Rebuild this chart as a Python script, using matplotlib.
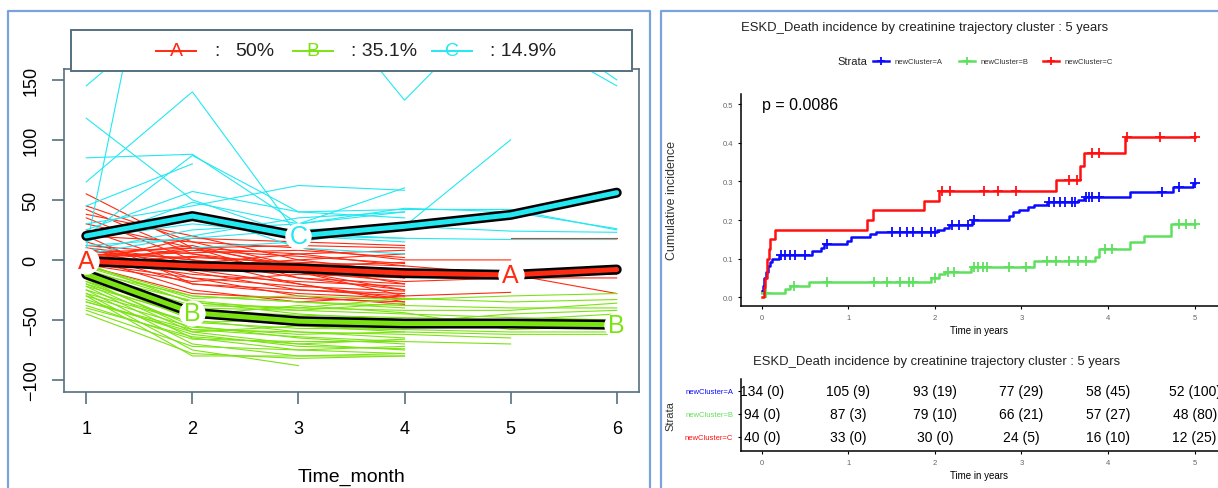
import numpy as np
import matplotlib
import matplotlib.pyplot as plt
from matplotlib.patches import Rectangle

plt.rcParams['font.family'] = ['Liberation Sans', 'DejaVu Sans']

nan = np.nan
W, H = 1218, 489

RED = '#ff2a12'
GREEN = '#7ce312'
CYAN = '#22e8f2'
SLATE = '#56707f'
FRAME = '#7aa2dc'

# ---- creatinine trajectories (months 1..6) ----
months = [1, 2, 3, 4, 5, 6]
cluster_names = ['A', 'B', 'C']
cluster_share = ['50%', '35.1%', '14.9%']

traj_A = [
    [55, 10, -15, -25, nan, nan],
    [45, 15, -5, -20, nan, nan],
    [42, 5, -10, -30, nan, nan],
    [38, 20, 0, -10, nan, nan],
    [35, 0, -20, -35, nan, nan],
    [30, 10, 5, -5, nan, nan],
    [25, -5, -10, -25, nan, nan],
    [20, 15, 10, 0, 0, nan],
    [15, -10, -25, -30, -27, nan],
    [12, 5, -5, -15, nan, nan],
    [10, -15, -30, -37, nan, nan],
    [8, 0, -15, -20, nan, nan],
    [6, 10, 12, 10, nan, nan],
    [5, -20, -25, -28, nan, nan],
    [4, -5, 0, 5, nan, nan],
    [3, 12, -8, -12, nan, nan],
    [2, -25, -35, -30, nan, nan],
    [1, 8, 3, -3, nan, nan],
    [0, -12, -18, -22, nan, nan],
    [-1, 18, 15, 12, nan, nan],
    [-2, -8, -20, -33, nan, nan],
    [-3, 3, -3, -8, nan, nan],
    [-4, -18, -12, -15, nan, nan],
    [-5, -28, -32, -35, nan, nan],
    [0, -2, -6, -10, nan, nan],
    [5, 2, -2, -5, -12, -28],
    [2, -6, -10, -18, -15, -15],
    [8, -3, 5, 8, nan, nan],
    [-3, -15, -22, -26, nan, nan],
    [3, 6, 8, 2, nan, nan],
    [nan, nan, nan, nan, 18, 18],
    [10, 0, -8, -10, -10, -12],
    [20, -20, -28, -32, nan, nan],
    [-2, 10, -5, -2, nan, nan],
]

traj_B = [
    [-5, -30, -35, -40, nan, nan],
    [-8, -35, -45, -50, nan, nan],
    [-10, -40, -50, -55, nan, nan],
    [-12, -45, -55, -60, nan, nan],
    [-15, -50, -60, -65, nan, nan],
    [-18, -55, -65, -70, nan, nan],
    [-20, -60, -70, -75, nan, nan],
    [-22, -65, -75, -78, nan, nan],
    [-25, -70, -80, -80, nan, nan],
    [-28, -75, -88, nan, nan, nan],
    [-30, -80, -80, -78, nan, nan],
    [-33, -62, -72, -74, nan, nan],
    [-35, -58, -60, -62, -65, nan],
    [-38, -66, -68, -68, -70, nan],
    [-42, -72, -75, -72, nan, nan],
    [-45, -78, -82, -80, nan, nan],
    [-10, -30, -35, -38, -40, -40],
    [-6, -32, -30, -33, -30, -28],
    [-15, -40, -42, -45, -48, -50],
    [-20, -48, -52, -55, -55, -57],
    [-25, -52, -57, -58, -60, -60],
    [-12, -38, -40, -42, -42, -36],
    [-8, -42, -46, -48, -50, -45],
    [-30, -56, -62, -60, -62, -62],
    [-18, -44, -48, -52, -45, -42],
    [-3, -36, -40, -32, -35, -33],
    [-22, -46, -38, -44, -58, -55],
    [-28, -52, -50, -48, nan, nan],
    [-35, -60, -55, -58, nan, nan],
    [-16, -58, -64, -68, nan, nan],
    [-40, -64, -70, -66, nan, nan],
    [-13, -34, -42, -36, nan, nan],
]

traj_C = [
    [145, 220, nan, nan, nan, nan],
    [10, 440, nan, nan, nan, nan],
    [118, 50, 20, 18, nan, nan],
    [65, 140, 20, 15, nan, nan],
    [85, 88, 30, 40, nan, nan],
    [20, 87, 40, 42, 42, 25],
    [45, 80, nan, nan, nan, nan],
    [25, 57, 40, 35, nan, nan],
    [15, 48, 30, 60, nan, nan],
    [30, 45, 62, 58, nan, nan],
    [8, 25, 30, 43, 40, 26],
    [5, 20, 35, 40, nan, nan],
    [12, 18, 25, 28, 24, 23],
    [18, 30, 22, 18, 17, 17],
    [22, 40, 10, 5, nan, nan],
    [nan, 10, 15, 28, 100, nan],
    [nan, nan, 241, 133, 223, nan],
    [nan, nan, nan, nan, 195, 145],
    [nan, nan, nan, nan, 210, 150],
]

mean_A = [-1, -5, -7, -11, -12.5, -8]
mean_B = [-12, -44, -51, -53, -53, -54]
mean_C = [20, 36.5, 20, 28, 37.5, 56]
label_months = {'A': [1, 5], 'B': [2, 6], 'C': [3]}

# ---- cumulative incidence (step curves) ----
times_A = [0, 0.01, 0.03, 0.05, 0.07, 0.09, 0.12, 0.2, 0.58, 0.68, 0.72, 0.98, 1.03,
           1.25, 1.32, 2.02, 2.1, 2.16, 2.43, 2.85, 2.9, 2.97, 3.08, 3.15, 3.3, 3.65,
           3.72, 4.25, 4.75, 4.98, 5.0]
cum_A = [0.015, 0.03, 0.05, 0.065, 0.08, 0.09, 0.10, 0.11, 0.12, 0.127, 0.137, 0.145, 0.157,
         0.163, 0.17, 0.175, 0.18, 0.187, 0.2, 0.21, 0.22, 0.227, 0.235, 0.24, 0.247, 0.253,
         0.26, 0.272, 0.285, 0.295, 0.295]
cens_A = [0.22, 0.27, 0.33, 0.38, 0.5, 0.75, 1.5, 1.6, 1.68, 1.75, 1.85, 1.95, 2.0, 2.2,
          2.28, 2.38, 2.45, 3.32, 3.38, 3.45, 3.5, 3.58, 3.62, 3.74, 3.78, 3.82, 3.9, 4.62,
          4.82, 5.0]

times_B = [0, 0.27, 0.33, 0.55, 1.95, 2.05, 2.12, 2.42, 3.15, 3.85, 3.9, 4.25, 4.42, 4.73, 5.0]
cum_B = [0.01, 0.02, 0.03, 0.04, 0.05, 0.06, 0.066, 0.078, 0.094, 0.105, 0.125, 0.143,
         0.158, 0.19, 0.19]
cens_B = [0.05, 0.37, 0.75, 1.3, 1.45, 1.6, 1.7, 1.75, 2.0, 2.15, 2.22, 2.45, 2.5, 2.55,
          2.6, 2.85, 3.05, 3.3, 3.4, 3.55, 3.65, 3.75, 3.97, 4.05, 4.82, 4.9, 5.0]

times_C = [0, 0.02, 0.04, 0.06, 0.08, 0.1, 0.15, 1.22, 1.28, 1.87, 2.05, 3.4, 3.68, 3.72,
           4.2, 5.0]
cum_C = [0, 0.025, 0.05, 0.10, 0.125, 0.15, 0.175, 0.20, 0.225, 0.25, 0.275, 0.305, 0.34,
         0.375, 0.415, 0.415]
cens_C = [2.08, 2.17, 2.57, 2.73, 2.94, 3.55, 3.64, 3.82, 3.9, 4.22, 4.6, 5.0]

p_value = 'p = 0.0086'
strata = ['newCluster=A', 'newCluster=B', 'newCluster=C']
risk_times = [0, 1, 2, 3, 4, 5]
at_risk = [[134, 105, 93, 77, 58, 52],
           [94, 87, 79, 66, 57, 48],
           [40, 33, 30, 24, 16, 12]]
events = [[0, 9, 19, 29, 45, 100],
          [0, 3, 10, 21, 27, 80],
          [0, 0, 0, 5, 10, 25]]
title = 'ESKD_Death incidence by creatinine trajectory cluster : 5 years'

KM_COLORS = ['#0a0aff', '#5ee05e', '#ff1010']


def box(l, t, r, b):
    return [l / W, 1 - b / H, (r - l) / W, (b - t) / H]


fig = plt.figure(figsize=(W / 100, H / 100), dpi=100)

##### Left: trajectories #####
ax = fig.add_axes(box(64, 70, 639, 393))
for trajs, col in [(traj_A, RED), (traj_B, GREEN), (traj_C, CYAN)]:
    for tr in trajs:
        ax.plot(months, tr, color=col, lw=0.8, zorder=2)

for name, mean, col in zip(cluster_names, [mean_A, mean_B, mean_C], [RED, GREEN, CYAN]):
    ax.plot(months, mean, color='black', lw=7.2, solid_capstyle='round',
            solid_joinstyle='round', zorder=5)
    ax.plot(months, mean, color=col, lw=3.6, solid_capstyle='round',
            solid_joinstyle='round', zorder=6)
    for m in label_months[name]:
        ax.plot(m, mean[m - 1], 'o', ms=18, mfc='white', mec='white', zorder=7)
        ax.text(m, mean[m - 1], name, color=col, fontsize=18, ha='center',
                va='center', zorder=8)

ax.set_xlim(0.79, 6.21)
ax.set_ylim(-110, 159)
ax.set_xticks(months)
ax.set_yticks([-100, -50, 0, 50, 100, 150])
ax.tick_params(axis='both', direction='out', length=8.5, width=1.2, color=SLATE,
               labelsize=13)
ax.tick_params(axis='x', pad=12)
ax.tick_params(axis='y', pad=9, labelrotation=90)
for lab in ax.get_yticklabels():
    lab.set_va('center')
for sp in ax.spines.values():
    sp.set_color(SLATE)
    sp.set_linewidth(1.2)
ax.set_xlabel('Time_month', fontsize=14, labelpad=22)

##### Right: cumulative incidence #####
axk = fig.add_axes(box(741, 95, 1218, 307))
for times, cum, cens, col in zip([times_A, times_B, times_C], [cum_A, cum_B, cum_C],
                                 [cens_A, cens_B, cens_C], KM_COLORS):
    axk.step(times, cum, where='post', color=col, lw=1.8)
    idx = np.searchsorted(times, cens, side='right') - 1
    axk.plot(cens, np.array(cum)[idx], '+', color=col, ms=7, mew=1.3, ls='none')

axk.set_xlim(-0.24, 5.27)
axk.set_ylim(-0.023, 0.527)
axk.set_xticks(risk_times)
axk.set_yticks([0, 0.1, 0.2, 0.3, 0.4, 0.5])
axk.set_yticklabels(['%.1f' % v for v in [0, 0.1, 0.2, 0.3, 0.4, 0.5]])
axk.spines[['top', 'right']].set_visible(False)
axk.spines[['left', 'bottom']].set_linewidth(1.1)
axk.tick_params(length=2.5, width=0.8, labelsize=5.5, labelcolor='#666666', pad=3)
axk.set_xlabel('Time in years', fontsize=7, labelpad=3)
axk.set_ylabel('Cumulative incidence', fontsize=9, color='#333333')
axk.yaxis.set_label_coords(-0.132, 0.5)
axk.text(0.0, 0.50, p_value, fontsize=11.5, ha='left', va='center')

##### Right: risk table #####
axt = fig.add_axes(box(741, 380, 1218, 452))
axt.set_xlim(-0.24, 5.27)
axt.set_ylim(0.39, 3.52)
for row, (n_row, e_row) in enumerate(zip(at_risk, events)):
    for t, n, e in zip(risk_times, n_row, e_row):
        axt.text(t, 3 - row, '%d (%d)' % (n, e), ha='center', va='center', fontsize=10,
                 clip_on=False)
axt.set_xticks(risk_times)
axt.set_yticks([3, 2, 1])
axt.set_yticklabels(strata)
for lab, col in zip(axt.get_yticklabels(), KM_COLORS):
    lab.set_color(col)
axt.spines[['top', 'right']].set_visible(False)
axt.spines[['left', 'bottom']].set_linewidth(1.1)
axt.tick_params(length=2.5, width=0.8, labelsize=5.5, pad=3)
axt.tick_params(axis='x', labelcolor='#666666')
axt.set_xlabel('Time in years', fontsize=7, labelpad=3)
axt.set_ylabel('Strata', fontsize=8, color='#333333')
axt.yaxis.set_label_coords(-0.138, 0.5)

##### Overlay: frames, legends, titles #####
ov = fig.add_axes([0, 0, 1, 1], zorder=10)
ov.set_xlim(0, W)
ov.set_ylim(H, 0)
ov.set_axis_off()

ov.plot([8, 8, 650, 650], [H, 12, 12, H], color=FRAME, lw=1.6)
ov.plot([661, 661, W], [H, 12, 12], color=FRAME, lw=1.6)

# cluster legend
ov.add_patch(Rectangle((71, 31), 561, 41, facecolor='white', edgecolor=SLATE, lw=1.4))
for x0, name, share, col in zip([156, 293, 432], cluster_names, cluster_share,
                                [RED, GREEN, CYAN]):
    ov.plot([x0, x0 + 40], [52, 52], color=col, lw=1.4)
    ov.text(x0 + 20, 52, name, color=col, fontsize=14, ha='center', va='center')
    ov.text(x0 + 58, 52, ': ' + share if name != 'A' else ':', fontsize=14,
            ha='left', va='center', color='#222222')
ov.text(235, 52, cluster_share[0], fontsize=14, ha='left', va='center', color='#222222')

# strata legend
ov.text(741, 28, title, fontsize=9.4, ha='left', va='center', color='#222222')
ov.text(837, 62, 'Strata', fontsize=8, ha='left', va='center', color='#222222')
for x0, lab, col in zip([873, 959, 1043], strata, KM_COLORS):
    ov.plot([x0, x0 + 16], [62, 62], color=col, lw=1.8)
    ov.plot(x0 + 8, 62, '+', color=col, ms=6, mew=1.3)
    ov.text(x0 + 22, 62, lab, fontsize=5.5, ha='left', va='center', color='#333333')

ov.text(753, 362, title, fontsize=9.4, ha='left', va='center', color='#222222')

plt.savefig('out.png', dpi=100)
plt.close()
